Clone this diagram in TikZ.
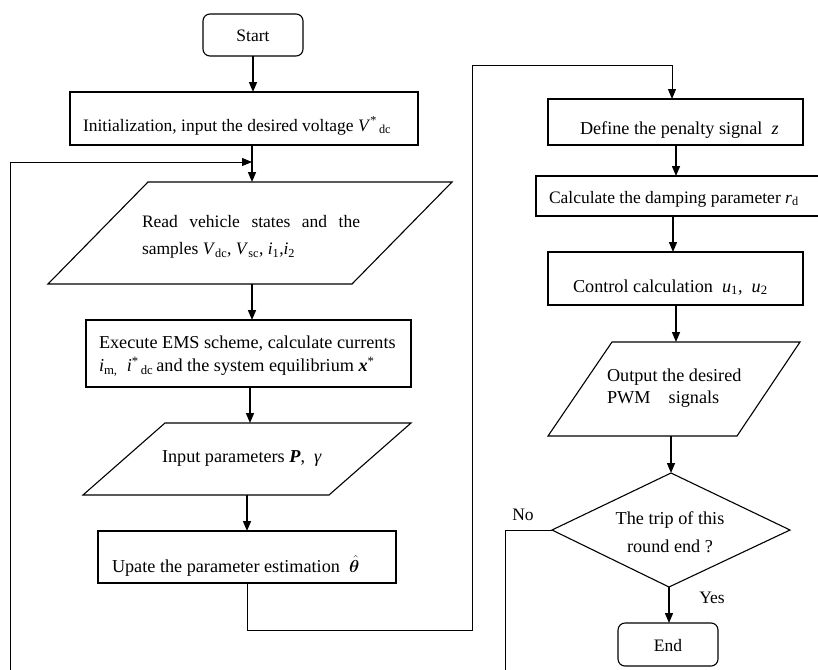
\documentclass[tikz,border=0pt]{standalone}
\usepackage{fontspec}
\setmainfont{Liberation Serif}
\usepackage{amsmath,bm}
\usetikzlibrary{arrows.meta}
\begin{document}
\begin{tikzpicture}[x=1pt,y=-1pt,
  every node/.style={inner sep=0pt, outer sep=0pt},
  txt/.style={font=\fontsize{18.2}{21}\selectfont},
  stxt/.style={font=\fontsize{17.5}{21}\selectfont},
  boxs/.style={draw, line width=1.1pt},
  arr/.style={line width=1.5pt, -{Triangle[length=10pt,width=8pt]}},
  loopa/.style={line width=1pt, -{Triangle[length=10pt,width=8pt]}},
  wire/.style={line width=1pt}]
\useasboundingbox (0,0) rectangle (818,669);

% boxes
\node[boxs, minimum width=100pt, minimum height=42pt, rounded corners=7pt] (start) at (253,35) {};
\node[stxt] (starttxt) at (253,36) {Start};
\node[boxs, minimum width=348pt, minimum height=53pt] (init) at (244,118.5) {};
\node[stxt, anchor=base west] (inittxt) at (83,131) {Initialization, input the desired voltage \textit{V}\textsuperscript{*}\textsubscript{\,dc}};

\draw[boxs] (148,182) -- (452,182) -- (352,284) -- (48,284) -- cycle;
\coordinate (readtop) at (252,182);
\coordinate (readbot) at (252,284);
\node[stxt, anchor=west, align=left, font=\fontsize{17.5}{27.5}\selectfont] (readtxt) at (142,237) {\makebox[218pt][s]{Read vehicle states and the}\\samples \textit{V}\textsubscript{dc}, \textit{V}\textsubscript{sc}, \textit{i}\textsubscript{1},\textit{i}\textsubscript{2}};

\node[boxs, minimum width=325pt, minimum height=67pt] (ems) at (248.5,353.5) {};
\node[txt, anchor=west, align=left, font=\fontsize{18.2}{23}\selectfont] (emstxt) at (99,356) {Execute EMS scheme, calculate currents\\\textit{i}\textsubscript{m,}\enspace\textit{i}\textsuperscript{*}\textsubscript{\,dc}\,and the system equilibrium \textbf{\textit{x}}\textsuperscript{*}};

\draw[boxs] (165,423) -- (411,423) -- (329,495) -- (83,495) -- cycle;
\coordinate (inptop) at (250,423);
\coordinate (inpbot) at (247,495);
\node[txt, anchor=base west] (inptxt) at (162,462) {Input parameters \textbf{\textit{P}},\enspace\textit{γ}};

\node[boxs, minimum width=298pt, minimum height=52pt] (upd) at (247,557) {};
\node[txt, anchor=base west] (updtxt) at (112,572) {Upate the parameter estimation\enspace$\hat{\bm{\theta}}$};

\node[boxs, minimum width=255pt, minimum height=46pt] (def) at (675.5,122) {};
\node[txt, anchor=base west] (deftxt) at (580,134) {Define the penalty signal\enspace\textit{z}};

\node[boxs, minimum width=284pt, minimum height=40pt] (calc) at (678,196) {};
\node[stxt, anchor=base west] (calctxt) at (549,203) {Calculate the damping parameter \textit{r}\textsubscript{d}};

\node[boxs, minimum width=255pt, minimum height=53pt] (ctrl) at (675.5,278.5) {};
\node[txt, anchor=base west] (ctrltxt) at (573,292) {Control calculation\enspace\textit{u}\textsubscript{1},\enspace\textit{u}\textsubscript{2}};

\draw[boxs] (612,342) -- (800,342) -- (737,436) -- (548,436) -- cycle;
\coordinate (outtop) at (676,342);
\coordinate (outbot) at (671,436);
\node[txt, anchor=west, align=left, font=\fontsize{18.2}{21.5}\selectfont] (outtxt) at (607,388) {Output the desired\\PWM\quad signals};

\draw[boxs] (671,473) -- (790,530) -- (669,587) -- (552,530) -- cycle;
\coordinate (dtop) at (671,473);
\coordinate (dbot) at (669,587);
\coordinate (dleft) at (552,530);
\node[txt, align=center, font=\fontsize{18.2}{27.5}\selectfont] (dtxt) at (670,532) {The trip of this\\round end ?};

\node[boxs, minimum width=100pt, minimum height=43pt, rounded corners=7pt] (end) at (668,644.5) {};
\node[stxt] (endtxt) at (668,646) {End};

\node[stxt] (no) at (523,515) {No};
\node[stxt] (yes) at (712,598) {Yes};

% connectors
\draw[arr] (start.south) -- (start.south |- init.north);
\draw[arr] (readtop |- init.south) -- (readtop);
\draw[arr] (readbot) -- (readbot |- ems.north);
\draw[arr] (inptop |- ems.south) -- (inptop);
\draw[arr] (inpbot) -- (inpbot |- upd.north);
\coordinate (fb) at (252,162);
\coordinate (j1) at (672,65);
\draw[loopa] (upd.south) -- (247,630) -- (472,630) -- (472,65) -- (j1) -- (j1 |- def.north);
\coordinate (a1) at (676,0);
\draw[arr] (a1 |- def.south) -- (a1 |- calc.north);
\coordinate (a2) at (673,0);
\draw[arr] (a2 |- calc.south) -- (a2 |- ctrl.north);
\draw[arr] (outtop |- ctrl.south) -- (outtop);
\draw[arr] (outbot) -- (dtop);
\draw[arr] (dbot) -- (dbot |- end.north);
\draw[loopa] (dleft) -- (505,530) -- (505,680) -- (10,680) -- (10,162) -- (fb);
\end{tikzpicture}
\end{document}
